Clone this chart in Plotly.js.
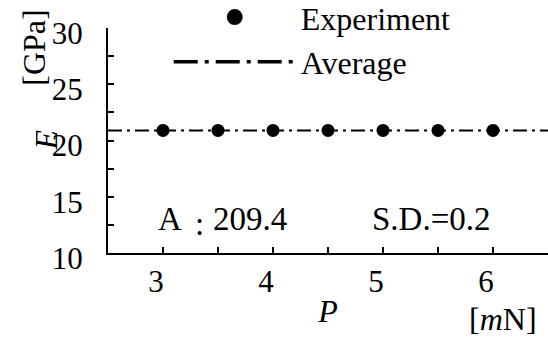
<!DOCTYPE html>
<html><head><meta charset="utf-8">
<script src="https://cdn.plot.ly/plotly-3.0.1.min.js"></script>
<style>html,body{margin:0;padding:0;background:#fff}#chart{width:548px;height:340px}</style>
</head><body><div id="chart"></div>
<script>
// ---- data ----
const loads = [3, 3.5, 4, 4.5, 5, 5.5, 6];          // P [mN]
const modulus = [20.9, 20.9, 20.9, 20.9, 20.9, 20.9, 20.9]; // E [GPa]
const average = 20.9;
const xRange = [2.5, 6.5];
const yRange = [10, 30];
const xTickVals = [3, 3.5, 4, 4.5, 5, 5.5, 6];
const xTickText = ['3', '', '4', '', '5', '', '6'];
const yLabelVals = [10, 15, 20, 25, 30];
const yTickVals = [10, 12.5, 15, 17.5, 20, 22.5, 25, 27.5, 30];
const seriesNames = ['Experiment', 'Average'];
const yTitle = '<i>E</i>';
const yUnit = '[GPa]';
const xTitle = '<i>P</i>';
const xUnit = '[<i>m</i>N]';
const noteLabel = 'A';
const noteValue = '209.4';
const sdText = 'S.D.=0.2';

const FONT = 'Liberation Serif';
const DASH_PLOT = '14px,5px,3px,5px';
const DASH_LEG = '24px,7px,4px,7px';

const traces = [
  { x: xRange, y: [average, average], type: 'scatter', mode: 'lines', yaxis: 'y2',
    line: { color: '#000', width: 2, dash: DASH_PLOT }, showlegend: false, hoverinfo: 'skip' },
  { x: loads, y: modulus, type: 'scatter', mode: 'markers',
    marker: { color: '#000', size: 13 }, showlegend: false, hoverinfo: 'skip', cliponaxis: false },
  { x: [null], y: [null], type: 'scatter', mode: 'markers', name: seriesNames[0],
    marker: { color: '#000', size: 18 } },
  { x: [null], y: [null], type: 'scatter', mode: 'lines', name: seriesNames[1],
    line: { color: '#000', width: 3.5, dash: DASH_LEG } }
];

const layout = {
  width: 548, height: 340,
  margin: { l: 108, r: 0, t: 28, b: 87, pad: 0, autoexpand: false },
  paper_bgcolor: '#fff', plot_bgcolor: '#fff',
  font: { family: FONT, size: 32, color: '#000' },
  showlegend: true,
  legend: { x: 0.138, y: 1.17, xanchor: 'left', yanchor: 'top', bgcolor: 'rgba(0,0,0,0)',
    itemwidth: 122, tracegroupgap: 0, font: { family: FONT, size: 32 } },
  xaxis: {
    range: xRange, tickmode: 'array', tickvals: xTickVals, ticktext: xTickText,
    ticks: 'inside', ticklen: 6, tickwidth: 2, tickcolor: '#000',
    showline: true, linewidth: 2, linecolor: '#000', showgrid: false, zeroline: false,
    ticklabelstandoff: 0, ticklabelshift: -7, tickfont: { family: FONT, size: 31 },
    title: { text: xTitle, standoff: 1, font: { family: FONT, size: 32 } }
  },
  yaxis: {
    range: yRange, tickmode: 'array', tickvals: yLabelVals,
    ticks: 'outside', ticklen: 17, tickwidth: 1, tickcolor: 'rgba(0,0,0,0)',
    showline: true, linewidth: 2, linecolor: '#000', showgrid: false, zeroline: false,
    ticklabelshift: 5, tickfont: { family: FONT, size: 31 }
  },
  yaxis2: {
    range: yRange, overlaying: 'y', side: 'left', anchor: 'x', tickmode: 'array', tickvals: yTickVals,
    ticks: 'inside', ticklen: 6, tickwidth: 2, tickcolor: '#000', showticklabels: false,
    showline: false, showgrid: false, zeroline: false
  },
  annotations: [
    { text: yTitle, xref: 'paper', yref: 'paper', x: -0.143, y: 0.5, textangle: -90,
      xanchor: 'center', yanchor: 'middle', showarrow: false, font: { family: FONT, size: 32 } },
    { text: yUnit, xref: 'paper', yref: 'paper', x: -0.17, y: 0.913, textangle: -90,
      xanchor: 'center', yanchor: 'middle', showarrow: false, font: { family: FONT, size: 32 } },
    { text: xUnit, xref: 'paper', yref: 'paper', x: 0.897, y: -0.295, xanchor: 'center', yanchor: 'middle',
      showarrow: false, font: { family: FONT, size: 32 } },
    { text: noteLabel, xref: 'x', yref: 'y', x: 3.068, y: 13.05, xanchor: 'center', yanchor: 'middle',
      showarrow: false, font: { family: FONT, size: 33 } },
    { text: ':', xref: 'x', yref: 'y', x: 3.336, y: 12.55, xanchor: 'center', yanchor: 'middle',
      showarrow: false, font: { family: FONT, size: 33 } },
    { text: noteValue, xref: 'x', yref: 'y', x: 3.79, y: 13.05, xanchor: 'center', yanchor: 'middle',
      showarrow: false, font: { family: FONT, size: 33 } },
    { text: sdText, xref: 'x', yref: 'y', x: 5.44, y: 13.05, xanchor: 'center', yanchor: 'middle',
      showarrow: false, font: { family: FONT, size: 33 } }
  ]
};

Plotly.newPlot('chart', traces, layout, { displayModeBar: false, staticPlot: true });
</script>
</body></html>
